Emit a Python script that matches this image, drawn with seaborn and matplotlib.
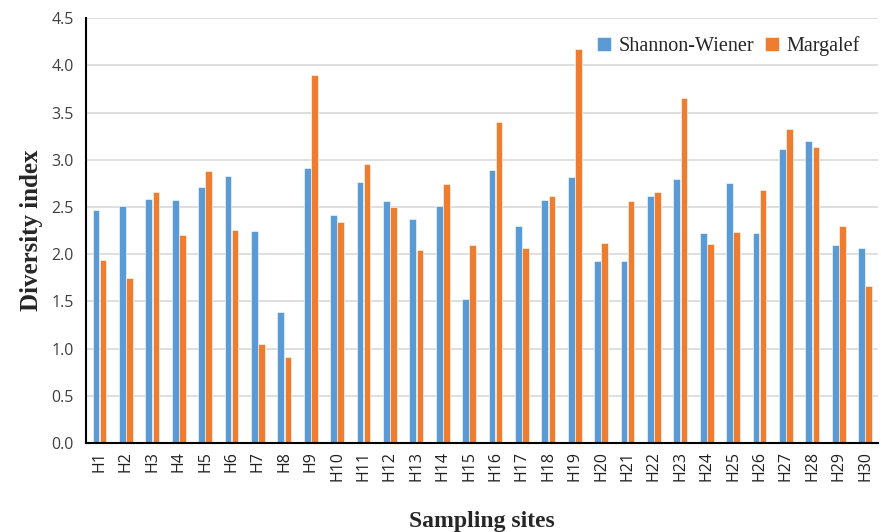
import matplotlib
matplotlib.use("Agg")
import matplotlib.pyplot as plt
import seaborn as sns
import pandas as pd
import numpy as np

sites = [f"H{i}" for i in range(1, 31)]
shannon = [2.47, 2.51, 2.59, 2.57, 2.71, 2.83, 2.25, 1.39, 2.91, 2.42,
           2.77, 2.56, 2.37, 2.51, 1.53, 2.89, 2.30, 2.57, 2.82, 1.93,
           1.93, 2.62, 2.80, 2.23, 2.75, 2.23, 3.11, 3.20, 2.10, 2.07]
margalef = [1.94, 1.75, 2.66, 2.20, 2.88, 2.26, 1.05, 0.91, 3.90, 2.34,
            2.96, 2.50, 2.04, 2.74, 2.10, 3.40, 2.07, 2.62, 4.17, 2.12,
            2.56, 2.66, 3.65, 2.11, 2.24, 2.68, 3.33, 3.13, 2.30, 1.66]
series = ["Shannon-Wiener", "Margalef"]

df = pd.DataFrame({"site": sites * 2,
                   "index": [series[0]] * 30 + [series[1]] * 30,
                   "value": shannon + margalef})

sns.set_style("white")
fig = plt.figure(figsize=(8.81, 5.32), dpi=100)
ax = fig.add_axes([0.098, 0.167, 0.899, 0.799])

sns.barplot(data=df, x="site", y="value", hue="index",
            palette=["#5B9BD5", "#ED7D31"], saturation=1, width=0.54,
            gap=0.06, edgecolor="white", linewidth=0.4, ax=ax)

ax.set_ylim(0, 4.5)
ax.set_xlim(-0.5, 29.5)
ax.set_yticks(np.arange(0, 4.51, 0.5))
ax.set_yticklabels([f"{v:.1f}" for v in np.arange(0, 4.51, 0.5)],
                   family="Open Sans", fontsize=11.5, color="#404040")
ax.set_xticks(range(30))
ax.set_xticklabels(sites, rotation=90, family="Open Sans", fontsize=11.5,
                   color="#202020")
ax.set_xticks(np.arange(-0.5, 30, 1), minor=True)
ax.tick_params(axis="x", which="major", length=0, pad=6)
ax.tick_params(axis="x", which="minor", length=5, width=1.2, direction="in",
               color="black")
ax.tick_params(axis="y", length=4, width=1.2, color="black", direction="out",
               pad=5)

ax.grid(axis="y", color="#d9d9d9", linewidth=1.2)
ax.set_axisbelow(True)
for s in ["top", "right"]:
    ax.spines[s].set_visible(False)
for s in ["left", "bottom"]:
    ax.spines[s].set_color("black")
    ax.spines[s].set_linewidth(1.5)

ax.set_ylabel("Diversity index", family="Liberation Serif", fontweight="bold",
              fontsize=18, labelpad=6)
ax.set_xlabel("Sampling sites", family="Liberation Serif", fontweight="bold",
              fontsize=17, labelpad=21)

ax.legend(title=None, loc="upper right", bbox_to_anchor=(1.0, 1.0), ncol=2,
          frameon=False, prop={"family": "Liberation Serif", "size": 14.5},
          handlelength=0.7, handleheight=0.7, handletextpad=0.4,
          columnspacing=0.5)

fig.savefig("out.png", dpi=100)
